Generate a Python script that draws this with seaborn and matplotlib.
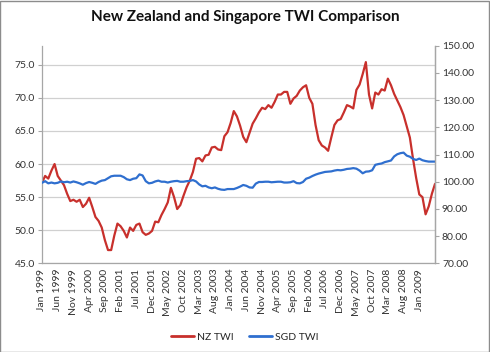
import numpy as np
import pandas as pd
import seaborn as sns
import matplotlib.pyplot as plt
from matplotlib.lines import Line2D
from matplotlib.patches import Rectangle

# monthly series, Jan 1999 onwards
inicio = "1999-01"
nz_twi = [
    57.2, 58.2, 57.8, 59.0, 60.0, 58.2, 57.5, 56.8, 55.5, 54.4,
    54.6, 54.3, 54.6, 53.5, 54.0, 54.9, 53.5, 52.0, 51.4, 50.4,
    48.5, 47.0, 47.0, 49.2, 51.0, 50.6, 49.9, 48.9, 50.4, 49.9,
    50.8, 51.0, 49.7, 49.3, 49.5, 49.9, 51.3, 51.2, 52.3, 53.2,
    54.2, 56.4, 55.0, 53.2, 53.8, 55.2, 56.5, 57.5, 58.8, 60.8,
    60.9, 60.4, 61.3, 61.4, 62.5, 62.6, 62.2, 62.1, 64.2, 64.8,
    66.2, 68.0, 67.2, 65.8, 64.1, 63.3, 64.7, 66.1, 66.9, 67.8,
    68.5, 68.3, 68.9, 68.5, 69.4, 70.5, 70.5, 70.9, 70.9, 69.1,
    69.9, 70.3, 71.1, 71.6, 71.9, 70.0, 69.1, 65.9, 63.6, 62.8,
    62.5, 62.0, 64.0, 65.9, 66.6, 66.8, 67.8, 68.9, 68.7, 68.4,
    71.2, 72.0, 73.6, 75.4, 70.5, 68.4, 70.8, 70.5, 71.3, 71.1,
    72.9, 71.9, 70.6, 69.6, 68.6, 67.4, 65.7, 64.0, 60.8, 57.9,
    55.4, 55.0, 52.4, 53.6, 55.5, 57.0,
]
sgd_twi = [
    99.6, 100.2, 99.4, 99.7, 99.4, 99.6, 100.1, 99.8, 100.0, 99.7,
    100.1, 99.8, 99.4, 98.9, 99.5, 99.9, 99.6, 99.2, 99.9, 100.4,
    100.6, 101.3, 102.0, 102.2, 102.2, 102.2, 101.7, 100.9, 100.6, 101.1,
    101.3, 102.7, 102.3, 100.2, 99.4, 99.6, 100.1, 100.4, 100.0, 100.0,
    99.7, 100.0, 100.2, 100.3, 100.0, 100.0, 100.2, 100.3, 100.6, 100.1,
    99.0, 98.3, 98.5, 97.9, 97.6, 97.9, 97.4, 97.1, 97.0, 97.3,
    97.3, 97.3, 97.7, 98.2, 98.8, 98.5, 97.9, 97.8, 99.3, 99.9,
    99.9, 100.0, 100.0, 99.8, 99.9, 100.0, 100.0, 99.7, 99.7, 99.8,
    100.2, 99.5, 99.4, 99.9, 101.1, 101.5, 102.1, 102.6, 103.0, 103.3,
    103.6, 103.7, 103.8, 104.1, 104.3, 104.2, 104.4, 104.7, 104.8, 105.0,
    104.8, 104.1, 103.1, 103.7, 103.8, 104.2, 106.2, 106.5, 106.7, 107.2,
    107.5, 107.8, 109.3, 110.1, 110.5, 110.7, 109.6, 109.2, 108.4, 108.0,
    108.5, 107.9, 107.6, 107.4, 107.4, 107.4,
]
nomes = ["NZ TWI", "SGD TWI"]
cores = ["#C8302C", "#2F6FCF"]
ticks_esq = [45, 50, 55, 60, 65, 70, 75]
ticks_dir = [70, 80, 90, 100, 110, 120, 130, 140, 150]

meses = pd.date_range(inicio, periods=len(nz_twi), freq="MS")
df = pd.DataFrame({"idx": np.arange(len(meses)), "nz": nz_twi, "sgd": sgd_twi})

sns.set_theme(style="white")
plt.rcParams["font.family"] = ["Lato", "DejaVu Sans"]

fig = plt.figure(figsize=(4.9, 3.52), dpi=100)
ax = fig.add_axes([0.0857, 0.252, 0.8021, 0.618])
ax2 = ax.twinx()

sns.lineplot(data=df, x="idx", y="nz", ax=ax, color=cores[0], linewidth=1.6)
sns.lineplot(data=df, x="idx", y="sgd", ax=ax2, color=cores[1], linewidth=1.6)

# eixo esquerdo
ax.set_ylim(45, 45 + 5 * (263.3 - 45.7) / 33.1)
ax.set_yticks(ticks_esq)
ax.set_yticklabels([f"{v:.1f}" for v in ticks_esq])
ax.yaxis.grid(True, color="#d0d0d0", linewidth=0.9)
ax.set_axisbelow(True)
ax2.set_ylim(70, 150)
ax2.set_yticks(ticks_dir)
ax2.set_yticklabels([f"{v:.2f}" for v in ticks_dir])

ax.set_xlim(0, len(meses) - 1)
# rótulos a cada 5 meses, até Jan 2009
pos = df["idx"].values[:121:5]
ax.set_xticks(pos)
ax.set_xticklabels([meses[p].strftime("%b %Y") for p in pos], rotation=90)
ax.set_xlabel("")
ax.set_ylabel("")
ax2.set_ylabel("")

for a in (ax, ax2):
    a.spines["top"].set_visible(False)
    for s in ("left", "right", "bottom"):
        a.spines[s].set_color("#a6a6a6")
        a.spines[s].set_linewidth(0.9)
    a.tick_params(labelsize=7.5, colors="#333333", length=3, width=0.8, pad=2)
ax.tick_params(axis="y", color="#a6a6a6", left=True)
ax.tick_params(axis="x", color="#a6a6a6", bottom=True, length=0, pad=4)
ax2.tick_params(axis="y", color="#a6a6a6", right=True)
ax2.spines["left"].set_visible(False)
ax2.spines["bottom"].set_visible(False)

fig.suptitle("New Zealand and Singapore TWI Comparison", x=0.5, y=0.972,
             fontsize=11, fontweight="bold", color="#111111")

handles = [Line2D([0], [0], color=c, linewidth=2) for c in cores]
fig.legend(handles, nomes, loc="center", bbox_to_anchor=(0.5, 0.042), ncol=2,
           frameon=False, fontsize=7.5, handlelength=2.2, handletextpad=0.3,
           columnspacing=1.5)

fig.patches.append(Rectangle((0.001, 0.001), 0.997, 0.997, transform=fig.transFigure,
                             fill=False, edgecolor="#8c8c8c", linewidth=1))

plt.savefig("out.png", dpi=100)
